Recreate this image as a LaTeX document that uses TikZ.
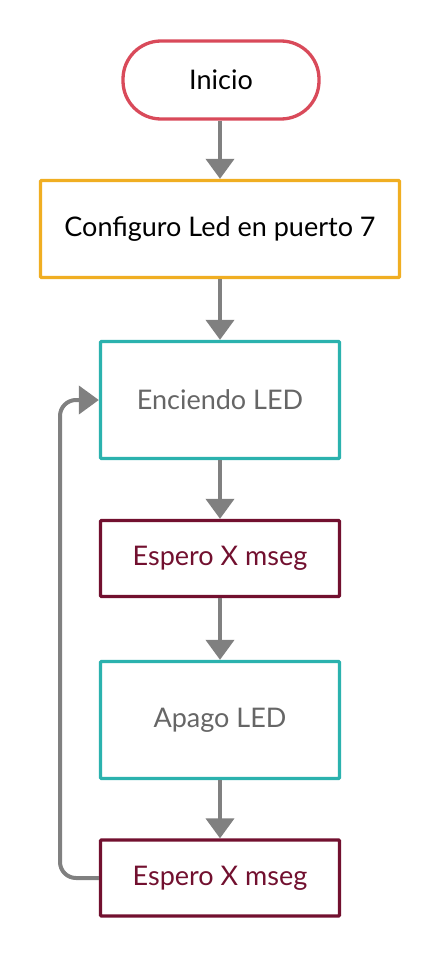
\documentclass[tikz,border=0pt]{standalone}
\usepackage{fontspec}
\setmainfont{Lato}
\usetikzlibrary{arrows.meta}
\definecolor{cred}{HTML}{D94A5A}
\definecolor{corange}{HTML}{F0AE22}
\definecolor{cteal}{HTML}{2BB2AE}
\definecolor{cmaroon}{HTML}{72102F}
\definecolor{cgray}{HTML}{808080}
\definecolor{ctext}{HTML}{666666}
\tikzset{
  base/.style={draw, line width=3.3pt, fill=white, font=\fontsize{27}{31}\selectfont, inner sep=0pt},
  pill/.style={base, draw=cred, rounded corners=38pt, minimum width=196pt, minimum height=78pt, text=black},
  obox/.style={base, draw=corange, rounded corners=1pt, minimum width=359pt, minimum height=97pt, text=black},
  tbox/.style={base, draw=cteal, rounded corners=1pt, minimum width=239pt, minimum height=117pt, text=ctext},
  mbox/.style={base, draw=cmaroon, rounded corners=1pt, minimum width=239pt, minimum height=76pt, text=cmaroon},
  arr/.style={draw=cgray, line width=4pt, -{Triangle[width=28pt,length=20pt]}},
}
\begin{document}
\begin{tikzpicture}[x=1pt,y=-1pt]
\useasboundingbox (0,0) rectangle (440,958);
\node[pill] (ini) at (221,80) {Inicio};
\node[obox] (cfg) at (220,229) {Configuro Led en puerto 7};
\node[tbox] (enc) at (220,400) {Enciendo LED};
\node[mbox] (e1) at (220,558.5) {Espero X mseg};
\node[tbox] (apa) at (220,720) {Apago LED};
\node[mbox] (e2) at (220,878) {Espero X mseg};
\coordinate (lp) at (60,400);
\draw[arr] (ini.south -| cfg.north) -- (cfg.north);
\draw[arr] (cfg) -- (enc);
\draw[arr] (enc) -- (e1);
\draw[arr] (e1) -- (apa);
\draw[arr] (apa) -- (e2);
\draw[arr, rounded corners=16pt] (e2.west) -| (lp) -- (enc.west);
\end{tikzpicture}
\end{document}
